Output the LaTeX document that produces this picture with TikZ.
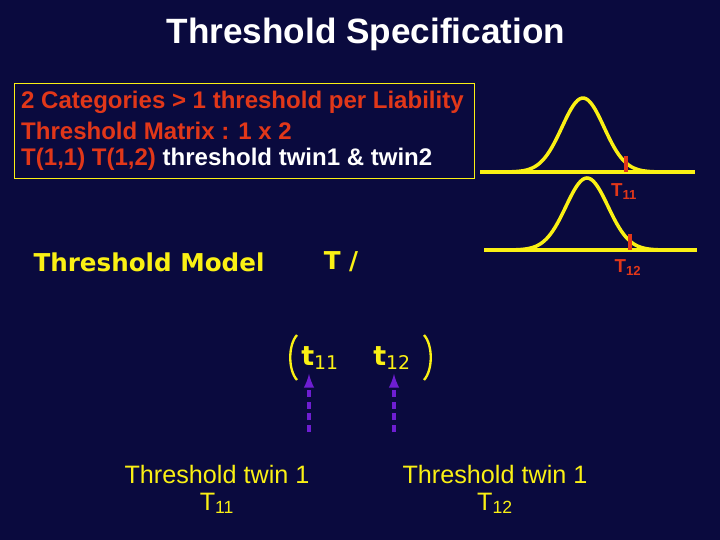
\documentclass[tikz,border=0pt]{standalone}
\usepackage{fontspec}
\setmainfont{Liberation Sans}
\newfontfamily\verd{DejaVu Sans}
\usetikzlibrary{positioning}
\definecolor{bgnavy}{RGB}{10,10,62}
\definecolor{ylw}{RGB}{250,240,20}
\definecolor{redt}{RGB}{225,55,25}
\definecolor{purp}{RGB}{110,30,210}
\tikzset{
  curve/.style={ylw,line width=3pt},
  bodytxt/.style={font=\fontsize{20.5}{24}\selectfont\bfseries,anchor=west,inner sep=0pt},
  ylwtxt/.style={ylw,font=\fontsize{21.5}{25}\selectfont},
  verdtxt/.style={ylw,font=\verd\bfseries\fontsize{21}{24}\selectfont},
  link/.style={purp,line width=3pt,dash pattern=on 6pt off 4pt,-latex}
}
\begin{document}
\begin{tikzpicture}[x=0.03cm,y=-0.03cm]
  \fill[bgnavy] (0,0) rectangle (720,540);
  \useasboundingbox (0,0) rectangle (720,540);

  \node[white,font=\fontsize{30}{34}\selectfont\bfseries] (title) at (366,34) {Threshold Specification};

  \draw[ylw,line width=0.6pt] (14,83) rectangle (474,178);
  \node[bodytxt,redt] (l1) at (21,102) {2 Categories > 1 threshold per Liability};
  \node[bodytxt,redt] (l2) at (21,131) {Threshold Matrix : 1 x 2};
  \node[bodytxt,redt] (l3) at (21,159) {T(1,1) T(1,2) \textcolor{white}{threshold twin1 \& twin2}};

  % normal curves
  \draw[curve] (480,172) -- (695,172);
  \draw[curve] plot[domain=500:670,samples=80,smooth] (\x,{172-74*exp(-((\x-583)/21)^2/2)});
  \draw[redt,line width=3pt] (626,156) -- (626,172);
  \node[redt,font=\bfseries\fontsize{16}{18}\selectfont] (T11) at (624,192) {T\textsubscript{11}};

  \draw[curve] (484,250) -- (697,250);
  \draw[curve] plot[domain=504:672,samples=80,smooth] (\x,{250-72*exp(-((\x-587)/21)^2/2)});
  \draw[redt,line width=3pt] (630,234) -- (630,250);
  \node[redt,font=\bfseries\fontsize{16}{18}\selectfont] (T12) at (628,268) {T\textsubscript{12}};

  \node[verdtxt] (model) at (149,262) {Threshold Model};
  \node[verdtxt] (tslash) at (341,262) {T /};

  % matrix
  \draw[ylw,line width=2pt] (297,335) .. controls (288,345) and (288,370) .. (297,380);
  \draw[ylw,line width=2pt] (424,335) .. controls (433,345) and (433,370) .. (424,380);
  \node[verdtxt,font=\verd\bfseries\fontsize{23}{26}\selectfont] (t11) at (320,358) {t\textsubscript{\mdseries 11}};
  \node[verdtxt,font=\verd\bfseries\fontsize{23}{26}\selectfont] (t12) at (392,358) {t\textsubscript{\mdseries 12}};

  \node[ylwtxt] (lab1) at (217,474) {Threshold twin 1};
  \node[ylwtxt,below=1pt of lab1] (lab1b) {T\textsubscript{11}};
  \node[ylwtxt] (lab2) at (495,474) {Threshold twin 1};
  \node[ylwtxt,below=1pt of lab2] (lab2b) {T\textsubscript{12}};

  \coordinate (a1) at (309,432);
  \coordinate (a2) at (394,432);
  \draw[link] (a1) -- (a1 |- t11.south);
  \draw[link] (a2) -- (a2 |- t12.south);
\end{tikzpicture}
\end{document}
